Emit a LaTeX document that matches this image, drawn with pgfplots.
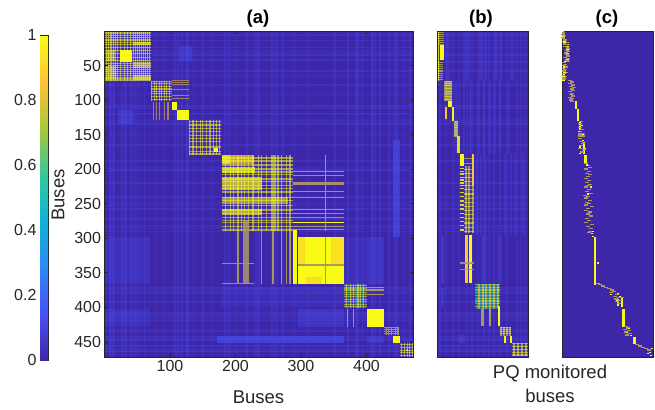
\documentclass[border=0pt]{standalone}
\usepackage{fontspec}
\setmainfont{Liberation Sans}
\usepackage{pgfplots}
\pgfplotsset{compat=1.18}
\definecolor{pbase}{RGB}{62,38,168}
\definecolor{plight}{RGB}{72,80,240}
\definecolor{pyel}{RGB}{249,251,21}
\definecolor{porg}{RGB}{252,200,45}
\definecolor{ptan}{RGB}{170,150,105}
\definecolor{pteal}{RGB}{20,180,170}
\definecolor{axc}{RGB}{38,38,38}
\pgfplotsset{
 colormap={parula}{rgb=(0.2422,0.1504,0.6603) rgb=(0.2810,0.3228,0.9579) rgb=(0.1786,0.5289,0.9682) rgb=(0.0689,0.6948,0.8394) rgb=(0.2161,0.7843,0.5923) rgb=(0.6720,0.7793,0.2227) rgb=(0.9970,0.7659,0.2199) rgb=(0.9769,0.9839,0.0805)},
 every axis/.append style={scale only axis,axis line style={draw=axc,line width=0.6bp},tick style={draw=axc,line width=0.5bp},tick align=inside,
  major tick length=3bp,axis background/.style={fill=pbase},
  tick label style={font=\fontsize{16bp}{18bp}\selectfont,text=axc},
  /pgf/number format/assume math mode=true,/pgf/number format/1000 sep={},
  y dir=reverse,axis on top},
 vy/.style={draw=pyel,draw opacity=0.52,line width=1.15bp},
 hy/.style={draw=pyel,draw opacity=0.52,line width=1.15bp},
 vl/.style={draw=plight,draw opacity=0.25,line width=1.8bp},
 hl/.style={draw=plight,draw opacity=0.25,line width=1.6bp},
 vlw/.style={draw=plight,draw opacity=0.18,line width=4bp},
 hlw/.style={draw=plight,draw opacity=0.18,line width=4bp},
}
\newcommand{\vs}[4]{\pgfplotsinvokeforeach{#4}{\addplot[#1] coordinates {(##1,#2)(##1,#3)};}}
\newcommand{\hs}[4]{\pgfplotsinvokeforeach{#4}{\addplot[#1] coordinates {(#2,##1)(#3,##1)};}}
\newcommand{\rc}[5]{\addplot[#1,draw=none] coordinates {(#2,#4)(#3,#4)(#3,#5)(#2,#5)} --cycle;}
\begin{document}
\begin{tikzpicture}[x=1bp,y=1bp]
\path[use as bounding box] (0,0) rectangle (655,409);
% ------------------------------ (a)
\begin{axis}[at={(104.5bp,52bp)},anchor=south west,width=308.5bp,height=326bp,xmin=0,xmax=471,ymin=0,ymax=472,
 xtick={100,200,300,400},ytick={50,100,150,200,250,300,350,400,450}]
% faint structure
\rc{fill=plight,fill opacity=0.55}{440}{451}{158}{298}
\rc{fill=plight,fill opacity=0.35}{401}{427}{298}{366}
\rc{fill=plight,fill opacity=0.6}{172}{365}{441}{451}
\rc{fill=plight,fill opacity=0.35}{401}{427}{441}{451}
\rc{fill=plight,fill opacity=0.35}{296}{365}{402}{428}
\rc{fill=plight,fill opacity=0.4}{21}{44}{114}{134}
\rc{fill=plight,fill opacity=0.4}{114}{134}{21}{44}
\rc{fill=plight,fill opacity=0.25}{0}{70}{298}{366}
\rc{fill=plight,fill opacity=0.22}{0}{70}{402}{427}
\rc{fill=plight,fill opacity=0.20}{366}{400}{298}{366}
\rc{fill=plight,fill opacity=0.18}{178}{365}{370}{400}
\vs{vl}{1}{472}{8,15,26,33,41,52,61,78,90,108,118,126,136,150,165,184,200,218,236,256,272,290,310,352,372,385,394,408,420,434,446,458,466}
\hs{hl}{1}{471}{6,14,24,35,42,58,66,78,92,108,120,135,150,165,188,202,220,240,258,272,290,372,380,392,408,418,434,447,456,464}
\vs{vlw}{1}{472}{12,30,46,112,128,190,232,262,386,412,444}
\hs{hlw}{1}{471}{30,110,130,200,250,284,376,412,444,462}
% block 1
\vs{vy}{1}{72}{3,6,10,14,17,20,25,30,35,40,44,47,50,53,57,60,63,66,69}
\hs{hy}{1}{71}{3,6,9,13,17,20,24,28,33,38,43,47,50,53,56,59,62,65,68,71}
\rc{fill=pyel}{24}{42}{27}{45}
\rc{fill=pyel,fill opacity=0.45}{3}{16}{28}{44}
\rc{fill=pyel,fill opacity=0.6}{44}{71}{16}{20}
\rc{fill=pyel,fill opacity=0.45}{44}{71}{45}{53}
\rc{fill=pyel,fill opacity=0.5}{44}{71}{64}{71}
\rc{fill=pyel,fill opacity=0.4}{3}{18}{50}{70}
% block 2
\vs{vy}{72}{101}{72,76,80,84,87,91,95,99}
\hs{hy}{71}{103}{73,76,80,84,87,91,95,99}
\vs{vy,draw=porg}{103}{129}{75,80,84,92,97}
\hs{hy,draw=porg}{103}{129}{72,75,78,85,93,98}
\rc{fill=pyel}{103}{111}{103}{114}
\rc{fill=pyel}{111}{129}{114}{129}
% block 3
\vs{vy}{129}{180}{130,135,140,146,150,156,161,166,171,175}
\hs{hy}{129}{178}{131,136,141,146,151,156,160,168,175,178}
\rc{fill=pyel}{167}{174}{169}{175}
% block 4 upper left
\rc{fill=pyel,fill opacity=0.85}{179}{192}{180}{192}
\rc{fill=porg,fill opacity=0.7}{192}{228}{180}{192}
\rc{fill=pyel,fill opacity=0.7}{179}{230}{197}{206}
\rc{fill=pyel,fill opacity=0.65}{179}{240}{211}{230}
\rc{fill=pyel,fill opacity=0.5}{179}{280}{240}{250}
\rc{fill=pyel,fill opacity=0.6}{179}{240}{257}{267}
\vs{vy,line width=1.4bp}{180}{366}{204,240,257,270,278,283}
\vs{vy,line width=1.4bp}{180}{290}{185,192,197,209,214,220,227,235,247,255,260,265}
\hs{hy,line width=1.4bp}{179}{288}{184,188,194,200,204,208,214,218,224,228,233,241,245,253,259,264,270,274,277,283,288}
\hs{hy,draw=ptan,draw opacity=0.95,line width=1bp}{288}{365}{204,209,233,241,259,264,270,283,288}
\rc{fill=ptan,fill opacity=0.95}{288}{365}{218}{223}
\hs{hy,draw opacity=1}{288}{365}{277}
\rc{fill=ptan,fill opacity=0.85}{211}{221}{274}{366}
\hs{hy,draw=ptan,draw opacity=0.9}{179}{228}{337,366}
% big yellow block
\rc{fill=pyel}{288}{294}{288}{366}
\rc{fill=pyel}{296}{365}{298}{366}
\rc{fill=porg,fill opacity=0.5}{346}{365}{298}{338}
\rc{fill=porg,fill opacity=0.5}{296}{306}{298}{338}
\rc{fill=porg,fill opacity=0.6}{308}{332}{356}{366}
\vs{vy,draw=ptan,draw opacity=1,line width=1.3bp}{298}{366}{337}
\hs{hy,draw=ptan,draw opacity=1,line width=1.3bp}{296}{365}{339}
\vs{vy,draw=ptan,draw opacity=1}{180}{290}{337}
% block 5
\hs{hy}{366}{401}{368,372,375,378,381,385,389,392,396,399}
\vs{vy,draw=pteal,draw opacity=0.6}{366}{401}{368,372,377,384,389,394,398}
\vs{vy}{366}{401}{370,375,380,387,391,396}
\hs{hy,draw=ptan,draw opacity=1}{401}{427}{371,375,381}
\vs{vy,draw=ptan,draw opacity=1,line width=1.8bp}{402}{428}{371,380}
\rc{fill=pyel}{401}{427}{402}{428}
% block 7, 8
\hs{hy,draw=ptan,draw opacity=0.9}{427}{450}{429,432,435,438}
\vs{vy,draw=ptan,draw opacity=0.9}{428}{440}{430,434,438,444,448}
\rc{fill=pyel}{440}{451}{441}{451}
\hs{hy}{451}{471}{454,458,462,466,470}
\vs{vy}{451}{472}{454,458,462,466,470}
\rc{fill=pyel,fill opacity=0.6}{460}{464}{460}{464}
\end{axis}
% ------------------------------ (b)
\begin{axis}[at={(437bp,52bp)},anchor=south west,width=91bp,height=326bp,xmin=0,xmax=91,ymin=0,ymax=472,xtick=\empty,ytick=\empty]
\vs{vl,draw opacity=0.3}{1}{72}{10,12,27,29,32,43,45,49,58,60,64,74,76}
\vs{vl,draw opacity=0.3}{178}{295}{40,44,48,68,74,78,86}
\vs{vl,draw opacity=0.2}{1}{472}{3,9,16,22,30,35,41,47,52,57,63,70,80,84,88}
\vs{vl,draw opacity=0.3}{72}{178}{19,27,33,42,47,53,58,63,72}
\rc{fill=plight,fill opacity=0.45}{4}{7}{295}{365}
\rc{fill=plight,fill opacity=0.35}{4}{7}{372}{400}
\rc{fill=plight,fill opacity=0.3}{44}{50}{295}{365}
\rc{fill=plight,fill opacity=0.25}{60}{65}{295}{365}
\rc{fill=plight,fill opacity=0.35}{22}{28}{440}{451}
\hs{hl}{1}{91}{6,14,24,35,45,58,78,92,108,135,150,165,188,220,240,258,272,290,372,380,392,408,418,434,447,456,464}
\hs{hlw}{1}{91}{110,130,250,284,376,412,444,462}
% block 1
\hs{hy}{1}{7}{2,5,8,11,14,17,20}
\rc{fill=pyel}{3.3}{7.3}{20}{42}
\hs{hy}{1}{6}{45,48,51,54,58,61,64,67,70}
\vs{vy,draw opacity=0.8}{1}{72}{1.5}
% block 2
\hs{hy}{8}{15}{73,76,79,83,87,91,95,99}
\vs{vy}{73}{102}{8,10,12,14}
\rc{fill=pyel}{11}{15}{102}{110}
\rc{fill=porg}{7.5}{9.5}{110}{128}
\rc{fill=pyel}{15}{17}{110}{130}
% block 3
\hs{hy}{17}{21}{131,134,137,140,143,146,149,152}
\vs{vy}{130}{152}{18,20}
\hs{hy}{20}{23}{155,158,161,164,167,170,173,176}
\vs{vy,draw opacity=0.8}{152}{177}{21,22.5}
% block 4
\rc{fill=pyel}{23}{27}{178}{196}
\hs{hy,draw opacity=0.85,line width=1.4bp}{23}{27}{199,203,207,212,216,220,224,228,234,240,246,252,258,264,270,276,282,288}
\hs{hy}{27}{37}{184,192,200,206,212,218,224,230,236,242,248,254,260,266,272,278,284,290}
\vs{vy}{196}{292}{29,32,36}
\vs{vy,draw=porg,draw opacity=1,line width=2.2bp}{178}{225}{36}
\vs{vy,draw=porg,draw opacity=1,line width=2.2bp}{295}{365}{29.5}
\vs{vy,draw opacity=1,line width=2.2bp}{295}{365}{33.5}
\hs{hy,draw=ptan,draw opacity=0.9}{23}{37}{336,345}
% block 5
\hs{hy}{38}{63}{367,371,375,379,383,387,391,395,399}
\vs{vy,draw=pteal,draw opacity=0.6}{366}{402}{40,44,47,51,55,59}
\vs{vy}{366}{402}{42,46,49,53,57,61}
\vs{vy,draw=ptan,draw opacity=1,line width=2.4bp}{402}{427}{45.5,53}
\vs{vy,draw opacity=1,line width=2.2bp}{398}{427}{62}
% block 7,8
\hs{hy}{63}{74}{429,432,435,438}
\vs{vy}{428}{441}{64,67,70,73}
\vs{vy,draw opacity=1,line width=2bp}{441}{452}{68,74}
\hs{hy}{75}{91}{453,457,461,465,469}
\vs{vy}{452}{471}{77,81,85,89}
\end{axis}
% ------------------------------ (c)
\begin{axis}[at={(562bp,52bp)},anchor=south west,width=91bp,height=326bp,xmin=0,xmax=91,ymin=0,ymax=472,xtick=\empty,ytick=\empty]
\addplot[only marks,mark=-,mark size=1.6bp,mark options={draw=ptan,line width=1.3bp}] coordinates {
(1.5,3)(1,5)(2,7)(1,9)(1.5,11)(3,13)(2,15)(5,17)(2.5,19)(6,20)(3,22)(5.5,24)(6,26)(5,28)(6,30)(4,32)(5,34)(6,36)(3,38)(6,40)(5,42)(6,44)(2,46)(3,48)(2,50)(4,52)(1.5,54)(3,56)(2,58)(4,60)(2,62)(1.5,64)(3,66)(2,68)(2,70)
(8,72)(10,74)(8,76)(11,78)(9,80)(12,82)(10,84)(11,86)(8,88)(10,90)(9,92)(11,94)(8,96)(10,98)(9,100)(10,102)
(19,131)(18,134)(19,137)(18,140)(20,143)(18,146)(18,149)(18,152)(21,148)(21,152)(18,156)(19,160)(21,163)(19,166)(18,170)(22,172)(20,175)
(24,192)(26,195)(28,198)(24,200)(27,203)(25,206)(28,208)(26,211)(24,214)(27,216)(25,219)(28,222)(26,224)(24,226)(27,229)(25,232)(29,235)(23,238)(26,240)(24,242)(28,245)(25,248)(27,250)(24,252)(30,254)(26,257)(24,260)(28,262)(26,265)(29,268)(25,271)(27,274)(24,277)(30,280)(26,283)(29,286)(28,290)(27,292)
(36,366)(38,367)(41,369)(44,371)(47,373)(50,375)(52,377)(49,379)(55,381)(53,384)(57,386)(54,388)(58,390)(55,392)(60,386)(57,395)
(64,428)(66,430)(63,432)(67,434)(64,436)(68,438)(65,440)(75,454)(78,456)(81,458)(84,460)(87,462)
};
\addplot[only marks,mark=-,mark size=1.3bp,mark options={draw=pyel,line width=1.2bp}] coordinates {
(1,1)(1.5,8)(2.5,16)(6,23)(5.5,27)(6,33)(6,41)(3,44)(2,52)(3,60)(1,72)(1.5,66)
(18,133)(20,137)(17,145)(21,150)(21,158)(18,168)(23,170)(18,177)(25,194)(29,226)(26,236)(31,290)(30,293)
(36,336)(31,297)(49,381)(56,380)(58,384)(55,390)(60,392)(65,437)(67,431)(69,441)(90,460)(88,465)(89,470)(86,467)
};
\vs{vy,draw opacity=1,line width=1.8bp}{1}{8}{1.5}
\vs{vy,draw opacity=1,line width=2.2bp}{55}{72}{2}
\vs{vy,draw opacity=1,line width=2.2bp}{102}{113}{13.7}
\vs{vy,draw opacity=1,line width=2.2bp}{113}{130}{15.7}
\vs{vy,draw opacity=1,line width=1.8bp}{131}{143}{18}
\vs{vy,draw opacity=1,line width=1.8bp}{160}{178}{22}
\vs{vy,draw opacity=1,line width=2.2bp}{180}{193}{23.5}
\vs{vy,draw opacity=1,line width=2bp}{298}{368}{33}
\vs{vy,draw opacity=1,line width=2bp}{388}{398}{55.5}
\vs{vy,draw opacity=1,line width=2bp}{385}{400}{60}
\vs{vy,draw opacity=1,line width=2.2bp}{403}{429}{61.5}
\vs{vy,draw opacity=1,line width=2.2bp}{443}{453}{72.5}
\end{axis}
% colorbar
\pgfplotscolorbardrawstandalone[colormap name=parula,point meta min=0,point meta max=1,
 colorbar style={at={(31.5bp,49bp)},anchor=south west,scale only axis,width=8bp,height=325bp,y dir=normal,
 ytick={0,0.2,0.4,0.6,0.8,1},yticklabel pos=left,tick align=inside,major tick length=2bp,axis on top=false}]
% texts
\node[font=\bfseries\fontsize{18.5bp}{20bp}\selectfont,text=black] at (258,390) {(a)};
\node[font=\bfseries\fontsize{18.5bp}{20bp}\selectfont,text=black] at (481,390) {(b)};
\node[font=\bfseries\fontsize{18.5bp}{20bp}\selectfont,text=black] at (607,390) {(c)};
\node[font=\fontsize{18.5bp}{22bp}\selectfont,text=axc] at (258.5,12) {Buses};
\node[font=\fontsize{18.5bp}{22bp}\selectfont,text=axc,rotate=90] at (58,214) {Buses};
\node[font=\fontsize{18.5bp}{22bp}\selectfont,text=axc,align=center,anchor=center] at (550,25) {PQ monitored\\[2bp]buses};
\end{tikzpicture}
\end{document}
